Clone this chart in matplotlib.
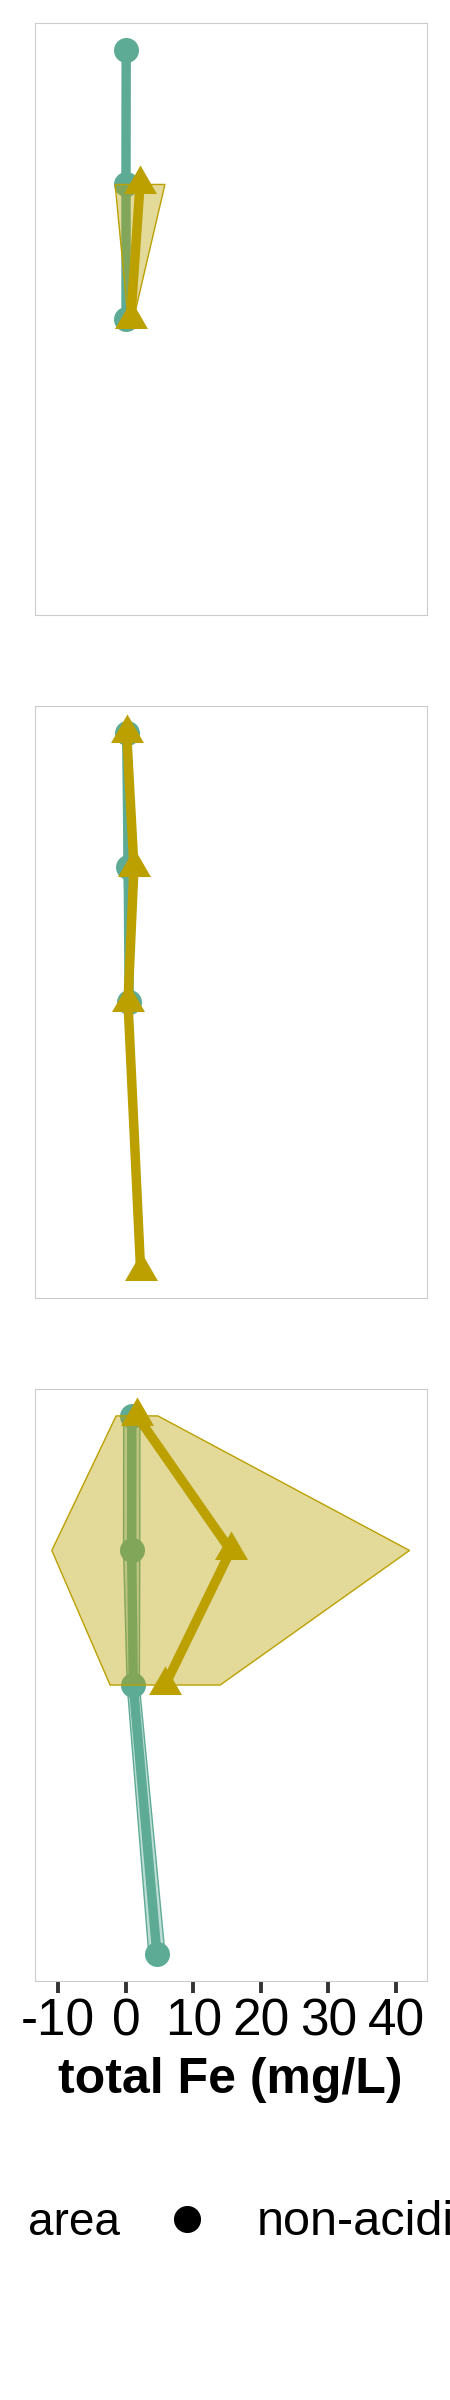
import numpy as np
import matplotlib
matplotlib.use('Agg')
import matplotlib.pyplot as plt
from matplotlib.path import Path
from matplotlib.lines import Line2D
from matplotlib.colors import to_rgba

plt.rcParams['font.family'] = ['Liberation Sans', 'DejaVu Sans']

# depth level of each sample, mean and sd of total Fe (mg/L)
# panel 1
p1_nonacid_y = [0, 1, 2]
p1_nonacid_mean = [0.05, 0.02, 0.03]
p1_nonacid_sd = [0.05, 0.05, 0.05]
p1_acid_y = [1, 2]
p1_acid_mean = [2.1, 0.73]
p1_acid_sd = [3.69, 0.4]
# panel 2
p2_nonacid_y = [0, 1, 2]
p2_nonacid_mean = [0.12, 0.35, 0.49]
p2_nonacid_sd = [0.3, 0.6, 0.3]
p2_acid_y = [0, 1, 2, 4]
p2_acid_mean = [0.12, 1.2, 0.32, 2.19]
p2_acid_sd = [0.2, 0.3, 0.2, 0.2]
# panel 3
p3_nonacid_y = [0, 1, 2, 4]
p3_nonacid_mean = [0.88, 0.86, 1.1, 4.6]
p3_nonacid_sd = [1.2, 1.2, 0.9, 1.2]
p3_acid_y = [0, 1, 2]
p3_acid_mean = [1.65, 15.52, 5.82]
p3_acid_sd = [3.09, 26.48, 8.15]

xticks = [-10, 0, 10, 20, 30, 40]
teal = '#5DAB95'
gold = '#BBA000'

s3 = np.sqrt(3)
tri = Path([(-1, -1/s3), (1, -1/s3), (0, 2/s3), (-1, -1/s3)],
           [Path.MOVETO, Path.LINETO, Path.LINETO, Path.CLOSEPOLY])


def draw(ax, y, m, s, col, marker, ms, z):
    y = np.array(y, float); m = np.array(m, float); s = np.array(s, float)
    px = np.concatenate([m - s, (m + s)[::-1]])
    py = np.concatenate([y, y[::-1]])
    ax.fill(px, py, facecolor=to_rgba(col, 0.4), edgecolor=col, lw=1.0, zorder=z)
    ax.plot(m, y, color=col, lw=6.8, zorder=z + 1, solid_joinstyle='round')
    ax.plot(m, y, ls='none', marker=marker, ms=ms, color=col, mec='none', zorder=z + 2)


fig = plt.figure(figsize=(4.5, 24), dpi=100)
W, H = 450., 2400.
left, right = 34.67, 426.67
tops = [23, 706, 1389]
ph = 592

panels = [
    (p1_nonacid_y, p1_nonacid_mean, p1_nonacid_sd, p1_acid_y, p1_acid_mean, p1_acid_sd),
    (p2_nonacid_y, p2_nonacid_mean, p2_nonacid_sd, p2_acid_y, p2_acid_mean, p2_acid_sd),
    (p3_nonacid_y, p3_nonacid_mean, p3_nonacid_sd, p3_acid_y, p3_acid_mean, p3_acid_sd),
]

axes = []
for i, (ny, nm, ns, ay, am, asd) in enumerate(panels):
    ax = fig.add_axes([left / W, 1 - (tops[i] + ph) / H, (right - left) / W, ph / H])
    draw(ax, ny, nm, ns, teal, 'o', 18, 1)
    draw(ax, ay, am, asd, gold, tri, 27.4, 4)
    ax.set_xlim(-13.5, 44.54)
    ax.set_ylim(4.2, -0.2)
    ax.set_yticks([])
    for sp in ax.spines.values():
        sp.set_color('#CCCCCC')
        sp.set_linewidth(0.8)
    if i < 2:
        ax.set_xticks([])
    axes.append(ax)

ax = axes[-1]
ax.set_xticks(xticks)
ax.set_xticklabels([str(t) for t in xticks])
# baseline of tick labels ~43 px below the end of the ticks
ax.tick_params(axis='x', length=8.4, width=2.8, color='#333333', labelsize=37, pad=31.2)
for t in ax.xaxis.get_major_ticks():
    t.label1.set_va('baseline')
ax.set_xlabel('total Fe (mg/L)', fontsize=36, fontweight='bold')
ax.xaxis.set_label_coords(0.5, (1980 - 2092) / ph)
ax.xaxis.label.set_va('baseline')

# legend (runs past the right edge, as in the original)
fig.text(28 / W, 1 - 2235 / H, 'area', fontsize=33, va='baseline', ha='left')
fig.add_artist(Line2D([187 / W], [1 - 2219 / H], transform=fig.transFigure,
                      marker='o', ms=18.5, color='black', ls='none'))
fig.text(257 / W, 1 - 2235 / H, 'non-acidic', fontsize=35, va='baseline', ha='left')

fig.savefig('out.png', dpi=100)
